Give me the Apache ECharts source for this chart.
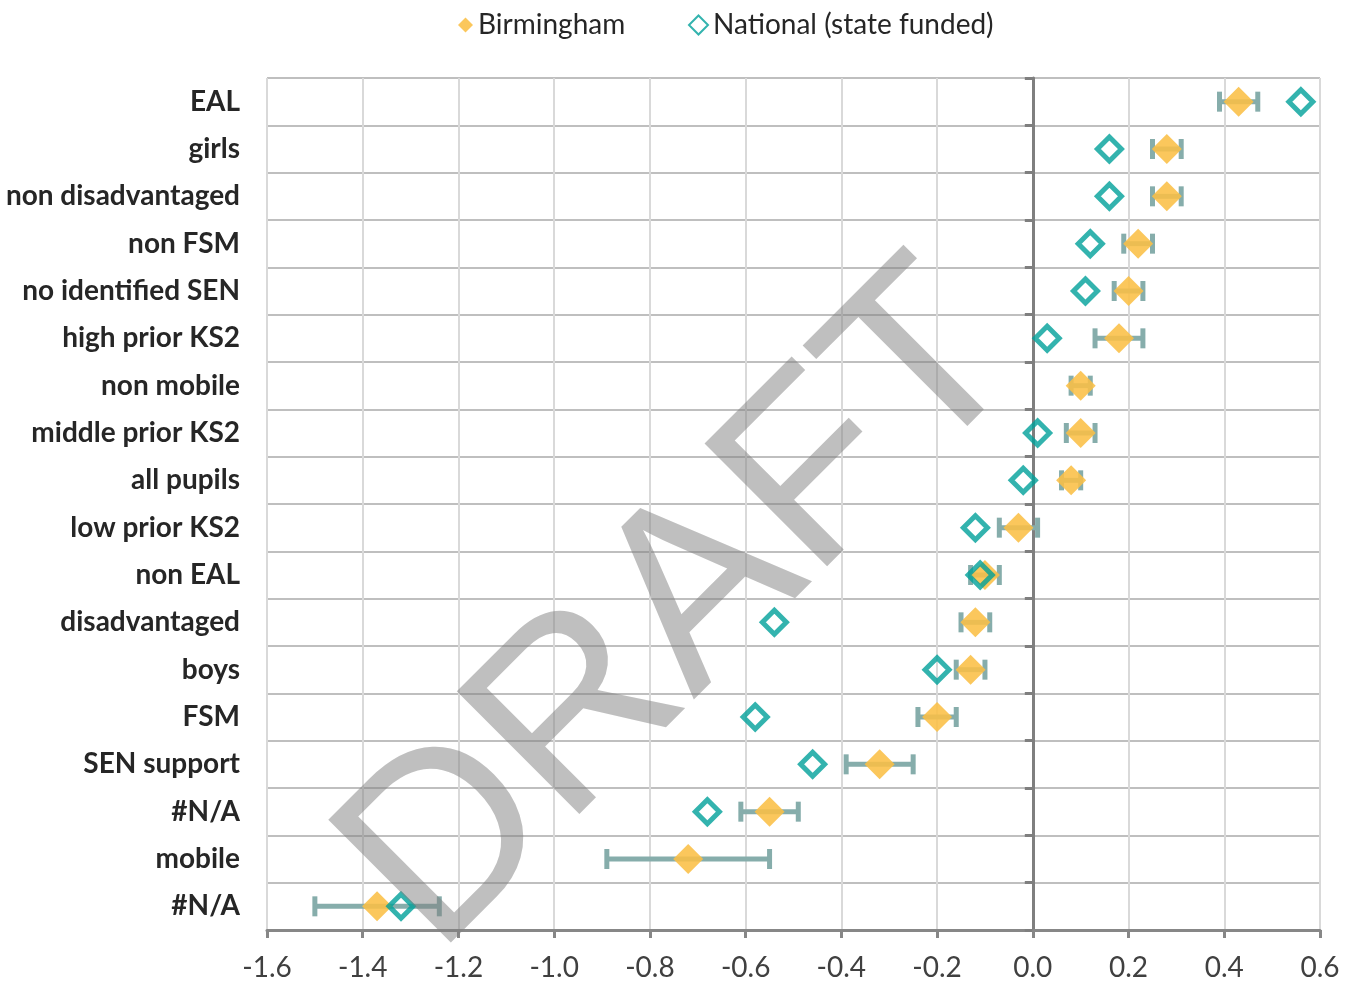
<!DOCTYPE html>
<html>
<head>
<meta charset="utf-8">
<script src="https://cdn.jsdelivr.net/npm/echarts@6/dist/echarts.min.js"></script>
<style>
  html, body { margin: 0; padding: 0; background: #fff; }
  #chart { width: 1358px; height: 983px; }
</style>
</head>
<body>
<div id="chart"></div>
<script>
// categories top to bottom
const categories = ['EAL', 'girls', 'non disadvantaged', 'non FSM', 'no identified SEN', 'high prior KS2',
	'non mobile', 'middle prior KS2', 'all pupils', 'low prior KS2', 'non EAL', 'disadvantaged',
	'boys', 'FSM', 'SEN support', '#N/A', 'mobile', '#N/A'];
const birmingham = [0.43, 0.28, 0.28, 0.22, 0.20, 0.18, 0.10, 0.10, 0.08, -0.03, -0.10, -0.12, -0.13, -0.20, -0.32, -0.55, -0.72, -1.37];
const national = [0.56, 0.16, 0.16, 0.12, 0.11, 0.03, null, 0.01, -0.02, -0.12, -0.11, -0.54, -0.20, -0.58, -0.46, -0.68, null, -1.32];
const ciLow = [0.39, 0.25, 0.25, 0.19, 0.17, 0.13, 0.08, 0.07, 0.06, -0.07, -0.13, -0.15, -0.16, -0.24, -0.39, -0.61, -0.89, -1.50];
const ciHigh = [0.47, 0.31, 0.31, 0.25, 0.23, 0.23, 0.12, 0.13, 0.10, 0.01, -0.07, -0.09, -0.10, -0.16, -0.25, -0.49, -0.55, -1.24];
const xTicks = { min: -1.6, max: 0.6, step: 0.2 };

const chart = echarts.init(document.getElementById('chart'));

const errColor = '#86adab';
const orange = '#fbbf45';
const teal = '#00a09a';

const gridLeft = 267, gridRight = 38;
// shift the second y axis (line + ticks only) over to x = 0
const plotWidth = 1358 - gridLeft - gridRight;
const zeroOffset = -((0 - xTicks.min) / (xTicks.max - xTicks.min)) * plotWidth;

function renderErr(params, api) {
	const lo = api.coord([api.value(0), api.value(2)]);
	const hi = api.coord([api.value(1), api.value(2)]);
	const h = 10;
	const style = { stroke: errColor, lineWidth: 5 };
	return {
		type: 'group',
		children: [
			{ type: 'line', shape: { x1: lo[0], y1: lo[1], x2: hi[0], y2: hi[1] }, style: style },
			{ type: 'line', shape: { x1: lo[0], y1: lo[1] - h, x2: lo[0], y2: lo[1] + h }, style: style },
			{ type: 'line', shape: { x1: hi[0], y1: hi[1] - h, x2: hi[0], y2: hi[1] + h }, style: style }
		]
	};
}

const legendText = { fontFamily: 'Lato', fontSize: 28, color: '#262626' };

const option = {
	animation: false,
	backgroundColor: '#fff',
	textStyle: { fontFamily: 'Lato' },
	legend: [
		{ data: ['Birmingham'], left: 453, top: 6, itemWidth: 15, itemHeight: 15, textStyle: legendText },
		{ data: ['National (state funded)'], left: 683, top: 6, itemWidth: 19, itemHeight: 19, textStyle: legendText }
	],
	grid: { left: gridLeft, right: gridRight, top: 78, bottom: 53, containLabel: false },
	xAxis: {
		type: 'value',
		min: xTicks.min,
		max: xTicks.max,
		interval: xTicks.step,
		axisLine: { show: true, lineStyle: { color: '#878787', width: 3 } },
		axisTick: { show: true, length: 8, lineStyle: { color: '#878787', width: 3 } },
		splitLine: { show: true, lineStyle: { color: '#d9d9d9', width: 2 } },
		axisLabel: {
			fontSize: 28, color: '#404040', margin: 24, fontFamily: 'Lato',
			formatter: v => Math.abs(v) < 1e-9 ? '0.0' : v.toFixed(1)
		}
	},
	yAxis: [
		{
			type: 'category',
			data: categories,
			inverse: true,
			axisLine: { show: false, onZero: false },
			axisTick: { show: false },
			splitLine: { show: true, lineStyle: { color: '#bfbfbf', width: 2 } },
			axisLabel: { fontSize: 28, fontWeight: 'bold', color: '#262626', margin: 27, fontFamily: 'Lato' }
		},
		{
			type: 'category',
			data: categories,
			inverse: true,
			position: 'left',
			offset: zeroOffset,
			axisLine: { show: true, onZero: false, lineStyle: { color: '#7f7f7f', width: 3 } },
			axisTick: { show: true, length: 8, lineStyle: { color: '#7f7f7f', width: 3 } },
			axisLabel: { show: false },
			splitLine: { show: false }
		}
	],
	graphic: [{
		type: 'text',
		x: 684,
		y: 611,
		rotation: Math.PI / 4,
		z: 100,
		silent: true,
		style: {
			text: 'DRAFT',
			fontFamily: 'Liberation Sans',
			fontSize: 252,
			fill: 'rgba(128,128,128,0.5)',
			align: 'center',
			verticalAlign: 'middle'
		}
	}],
	series: [
		{
			name: 'error',
			type: 'custom',
			renderItem: renderErr,
			encode: { x: [0, 1], y: 2 },
			data: ciLow.map((lo, i) => [lo, ciHigh[i], i]),
			z: 2
		},
		{
			name: 'Birmingham',
			type: 'scatter',
			symbol: 'diamond',
			symbolSize: 30,
			itemStyle: { color: orange, opacity: 0.88 },
			data: birmingham.map((v, i) => [v, i]),
			z: 3
		},
		{
			name: 'National (state funded)',
			type: 'scatter',
			symbol: 'diamond',
			symbolSize: 24,
			itemStyle: { color: 'rgba(0,0,0,0)', borderColor: teal, borderWidth: 5 },
			data: national.map((v, i) => [v, i]).filter(d => d[0] !== null),
			z: 4
		}
	]
};

chart.setOption(option);
</script>
</body>
</html>
